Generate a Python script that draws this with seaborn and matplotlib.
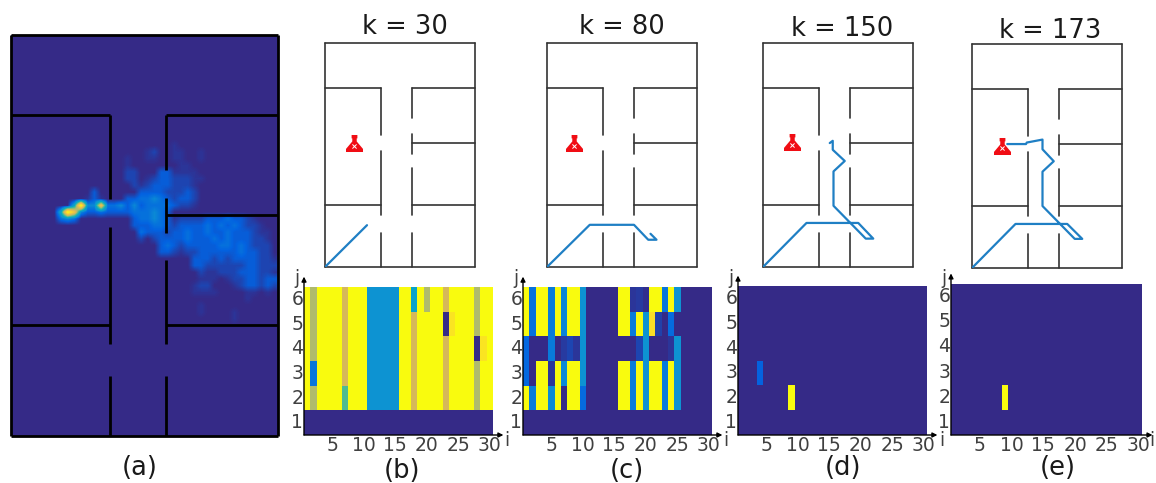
"""
Search map heat (a) and target probability grids at k = 30, 80, 150, 173 (b-e).
"""

import numpy as np
import matplotlib
matplotlib.use('Agg')
import matplotlib.pyplot as plt
from matplotlib.colors import LinearSegmentedColormap
from matplotlib.path import Path
import seaborn as sns

# 1. DATA
W, H = 1156, 483

# walls of the floor plan, map units (20 x 30), as (x0, y0, x1, y1)
walls = [
    (0, 0, 20, 0), (0, 30, 20, 30), (0, 0, 0, 30), (20, 0, 20, 30),
    (0, 24, 7.4, 24), (11.6, 24, 20, 24),
    (11.6, 16.55, 20, 16.55),
    (0, 8.3, 7.4, 8.3), (11.6, 8.3, 20, 8.3),
    (7.4, 24, 7.4, 17.7), (7.4, 15.6, 7.4, 6.9), (7.4, 4.5, 7.4, 0),
    (11.6, 24, 11.6, 19.9), (11.6, 17.8, 11.6, 15.2),
    (11.6, 13.2, 11.6, 6.9), (11.6, 4.5, 11.6, 0),
]

# robot path per time step panel
k_titles = ['k = 30', 'k = 80', 'k = 150', 'k = 173']
path_x_30 = [0, 5.6]
path_y_30 = [0, 5.6]
path_x_80 = [0, 5.7, 11.6, 13.5, 14.6, 13.8]
path_y_80 = [0, 5.65, 5.65, 3.65, 3.65, 4.45]
path_x_150 = [0, 5.8, 12.7, 14.7, 13.7, 9.4, 9.4, 10.9, 9.3, 9.3, 8.9]
path_y_150 = [0, 5.9, 5.9, 3.8, 3.8, 8.2, 12.8, 14.2, 15.7, 16.9, 16.6]
path_x_173 = [0, 5.8, 12.7, 14.7, 13.7, 9.4, 9.4, 10.9, 9.4, 9.4, 7.3, 7.2, 4.7]
path_y_173 = [0, 5.9, 5.9, 3.9, 3.9, 8.3, 12.9, 14.3, 15.9, 17.2, 16.8, 16.6, 16.6]
target_x = [3.8, 3.6, 3.8, 4.0]
target_y = [16.55, 16.55, 16.7, 16.4]

# heat of panel (a): (row from top, first column, level digits), grid is 40 x 60
heat_spans = [
    (16, 24, '1'),
    (17, 20, '12'), (17, 24, '11'), (17, 28, '1'),
    (18, 17, '1'), (18, 20, '11'), (18, 24, '11'), (18, 28, '1'),
    (19, 17, '1'), (19, 25, '11'),
    (20, 17, '22'), (20, 22, '331111'),
    (21, 17, '22'), (21, 20, '123322211'),
    (22, 18, '2123332221'),
    (23, 12, '3'), (23, 19, '333322232'),
    (24, 11, '131'), (24, 17, '33445432332'),
    (25, 9, '6955844535344443221'),
    (26, 7, '69853343333444543'),
    (27, 7, '454'), (27, 18, '3445431222233343321'),
    (28, 18, '33344323333434343221'),
    (29, 19, '43332334334334333211'),
    (30, 19, '2'), (30, 21, '233334333434333221'),
    (31, 22, '34323333344343222'),
    (32, 22, '33212233333343322'),
    (33, 27, '3332323333221'),
    (34, 27, '3322222233222'),
    (35, 28, '211222333221'),
    (36, 28, '111012233233'),
    (37, 27, '122'), (37, 33, '1233232'),
    (38, 27, '1111'), (38, 35, '1101'),
    (39, 35, '1'),
    (40, 28, '1'),
    (41, 28, '1'), (41, 33, '1'),
    (42, 33, '1'),
]
heat_levels = [0, 0.02, 0.05, 0.09, 0.13, 0.18, 0.28, 0.45, 0.72, 1.0]

# grids, rows listed from j = 6 down to j = 1, columns i = 1..30
Y = 1.0
grid_b = [
    [Y, .52, Y, Y, Y, Y, .6, Y, Y, Y, .2, .2, .2, .2, .2, Y, Y, .28, Y, .52, Y, Y, .6, Y, Y, Y, Y, .52, Y, Y],
    [Y, .52, Y, Y, Y, Y, .6, Y, Y, Y, .2, .2, .2, .2, .2, Y, Y, .6, Y, Y, Y, Y, 0, .88, Y, Y, Y, .52, Y, Y],
    [Y, .52, Y, Y, Y, Y, .6, Y, Y, Y, .2, .2, .2, .2, .2, Y, Y, .6, Y, Y, Y, Y, .6, Y, Y, Y, Y, 0, .88, Y],
    [Y, .14, Y, Y, Y, Y, .6, Y, Y, Y, .2, .2, .2, .2, .2, Y, Y, .6, Y, Y, Y, Y, .6, Y, Y, Y, Y, .52, Y, Y],
    [Y, .52, Y, Y, Y, Y, .42, Y, Y, Y, .2, .2, .2, .2, .2, Y, Y, .6, Y, Y, Y, Y, .6, Y, Y, Y, Y, .52, Y, Y],
    [0] * 30,
]
grid_c = [
    [Y, .13, Y, Y, .15, Y, .17, Y, Y, .2, 0, 0, 0, 0, 0, Y, Y, .02, .03, .01, Y, Y, .14, Y, .2, 0, 0, 0, 0, 0],
    [Y, .13, Y, Y, .15, Y, .17, Y, Y, .2, 0, 0, 0, 0, 0, Y, Y, .15, Y, .2, .85, .04, 0, .12, 0, 0, 0, 0, 0, 0],
    [.11, 0, 0, 0, .15, 0, .03, .05, .02, .2, 0, 0, 0, 0, 0, 0, 0, 0, .05, .2, 0, 0, 0, .02, .2, 0, 0, 0, 0, 0],
    [.11, 0, Y, Y, .02, Y, .18, Y, Y, .2, 0, 0, 0, 0, 0, Y, Y, .15, Y, .2, Y, Y, .15, Y, .2, 0, 0, 0, 0, 0],
    [Y, .15, Y, Y, .18, Y, 0, Y, Y, .12, 0, 0, 0, 0, 0, Y, Y, .15, Y, .2, Y, Y, .15, Y, .2, 0, 0, 0, 0, 0],
    [0] * 30,
]
grid_d = [[0] * 30 for _ in range(6)]
grid_d[3][3] = .1
grid_d[4][8] = Y
grid_e = [[0] * 30 for _ in range(6)]
grid_e[4][8] = Y

i_labels = ['' if (n % 5) else str(n) for n in range(1, 31)]
j_labels = ['6', '5', '4', '3', '2', '1']
panel_labels = ['(a)', '(b)', '(c)', '(d)', '(e)']

# 2. STYLE
sns.set_theme(style='white')
plt.rcParams['font.family'] = ['DejaVu Sans']

parula = LinearSegmentedColormap.from_list('parula_like', [
    (0.0, '#352a87'), (0.1, '#0363e1'), (0.2, '#0d93d2'), (0.3, '#06a7c6'),
    (0.42, '#4fbb90'), (0.52, '#aebb6c'), (0.6, '#d6b85a'), (0.8, '#fad430'),
    (1.0, '#f9fb0e'),
])
WALL_GREY = '#333333'
PATH_BLUE = '#1f7fc4'
TICK_GREY = '#404040'


def px_axes(x0, y0, x1, y1):
    # axes placed from reference pixel box
    return plt.gcf().add_axes([x0 / W, 1 - y1 / H, (x1 - x0) / W, (y1 - y0) / H])


def px_text(x, y, s, size, color='#1a1a1a'):
    fig.text(x / W, 1 - y / H, s, fontsize=size, color=color, ha='center', va='center')


fig = plt.figure(figsize=(W / 100, H / 100), dpi=100, facecolor='white')

# flask icon for the target
flask = Path([(-0.17, 0.5), (0.17, 0.5), (0.17, 0.3), (0.13, 0.3), (0.13, 0.12), (0.5, -0.32),
              (0.5, -0.5), (-0.5, -0.5), (-0.5, -0.32), (-0.13, 0.12), (-0.13, 0.3),
              (-0.17, 0.3), (-0.17, 0.5)], closed=True)

# 3. PANEL (a)
heat = np.zeros((60, 40))
for row, col, digits in heat_spans:
    for n, d in enumerate(digits):
        heat[row, col + n] = heat_levels[int(d)]

ax = px_axes(11, 35, 278, 436)
ax.imshow(heat, cmap=parula, vmin=0, vmax=1, extent=(0, 20, 0, 30), aspect='auto',
          interpolation='bilinear')
for x0, y0, x1, y1 in walls:
    ax.plot([x0, x1], [y0, y1], color='black', lw=2.0, clip_on=False, solid_capstyle='butt')
ax.set_xlim(0, 20)
ax.set_ylim(0, 30)
ax.set_axis_off()

# 4. FLOOR PLANS
map_boxes = [(325, 43, 475, 267), (547, 43, 697, 267), (763, 43, 913, 267), (972, 44, 1122, 268)]
paths = [(path_x_30, path_y_30), (path_x_80, path_y_80), (path_x_150, path_y_150), (path_x_173, path_y_173)]
title_pos = [(405, 27), (622, 27), (842, 29), (1050, 31)]

for box, (px, py), title, tx, ty, tpos in zip(map_boxes, paths, k_titles, target_x, target_y, title_pos):
    ax = px_axes(*box)
    for x0, y0, x1, y1 in walls:
        ax.plot([x0, x1], [y0, y1], color=WALL_GREY, lw=1.2, clip_on=False)
    ax.scatter([tx], [ty], marker=flask, s=150, color='#f00d14', linewidths=0, zorder=3)
    ax.scatter([tx], [ty - 0.3], marker='x', s=9, color='white', linewidths=0.7, zorder=4)
    sns.lineplot(x=px, y=py, ax=ax, sort=False, estimator=None, color=PATH_BLUE, lw=1.6,
                 zorder=5, legend=False)
    ax.set_xlim(0, 20)
    ax.set_ylim(0, 30)
    ax.set_axis_off()
    px_text(tpos[0], tpos[1], title, 18.5)

# 5. PROBABILITY GRIDS
grid_boxes = [(304, 287, 493, 435), (523, 287, 712, 435), (738, 286, 927, 435), (951, 284, 1142, 435)]
grids = [grid_b, grid_c, grid_d, grid_e]
i_label_x = [507, 726, 942, 1152]

for box, grid, ix in zip(grid_boxes, grids, i_label_x):
    ax = px_axes(*box)
    sns.heatmap(np.array(grid, dtype=float), ax=ax, cmap=parula, vmin=0, vmax=1, cbar=False,
                xticklabels=i_labels, yticklabels=j_labels)
    ax.tick_params(axis='both', length=0, labelsize=13.5, labelcolor=TICK_GREY, pad=0.5)
    ax.tick_params(axis='x', rotation=0, pad=1)
    ax.tick_params(axis='y', rotation=0)
    # axis arrows
    ax.annotate('', xy=(1.055, 0), xytext=(0, 0), xycoords='axes fraction',
                arrowprops=dict(arrowstyle='-|>', color='black', lw=1, shrinkA=0, shrinkB=0,
                                mutation_scale=7), annotation_clip=False)
    ax.annotate('', xy=(0, 1.07), xytext=(0, 0), xycoords='axes fraction',
                arrowprops=dict(arrowstyle='-|>', color='black', lw=1, shrinkA=0, shrinkB=0,
                                mutation_scale=7), annotation_clip=False)
    px_text(box[0] - 7, 279, 'j', 13.5, TICK_GREY)
    px_text(ix, 440, 'i', 13.5, TICK_GREY)

# 6. PANEL LETTERS
letter_pos = [(140, 468), (402, 471), (627, 471), (843, 468), (1058, 468)]
for (x, y), label in zip(letter_pos, panel_labels):
    px_text(x, y, label, 18.5)

fig.savefig('out.png', dpi=100)
